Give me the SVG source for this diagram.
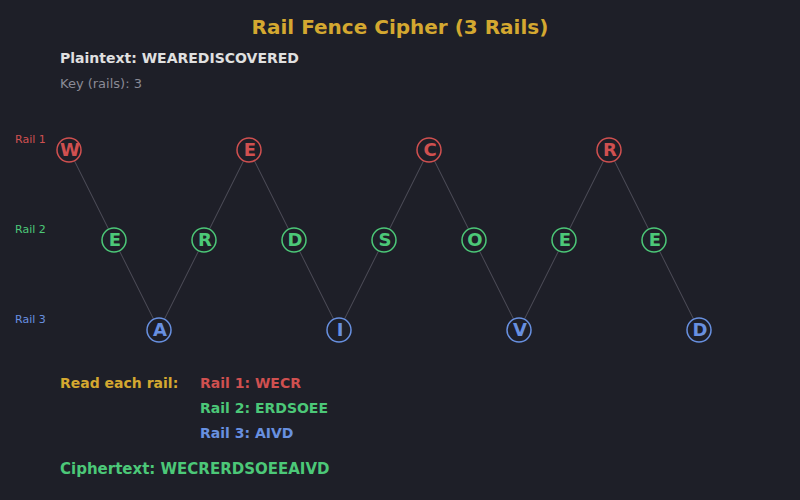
<svg xmlns="http://www.w3.org/2000/svg" width="800" height="500" viewBox="0 0 800 500">
<style>
text{font-family:"DejaVu Sans",sans-serif}
.n circle{fill:#1e1f28;stroke-width:1.5}
.n text{font-size:18px;font-weight:bold;text-anchor:middle}
.r1 circle{stroke:#d05050}.r1 text{fill:#d05050}
.r2 circle{stroke:#4cc878}.r2 text{fill:#4cc878}
.r3 circle{stroke:#6890e0}.r3 text{fill:#6890e0}
.lbl{font-size:11px}
</style>
<rect width="800" height="500" fill="#1e1f28"/>
<text x="400" y="34" font-size="20" font-weight="bold" fill="#d4a830" text-anchor="middle">Rail Fence Cipher (3 Rails)</text>
<text x="60" y="63" font-size="14" font-weight="bold" fill="#e0e0e0">Plaintext: WEAREDISCOVERED</text>
<text x="60" y="88" font-size="13" fill="#8a8a96">Key (rails): 3</text>
<text class="lbl" x="15" y="143" fill="#d05050">Rail 1</text>
<text class="lbl" x="15" y="233" fill="#4cc878">Rail 2</text>
<text class="lbl" x="15" y="323" fill="#6890e0">Rail 3</text>
<g id="connectors" stroke="#5a5a66" stroke-width="0.8" fill="none">
<polyline points="69,150 114,240 159,330 204,240 249,150 294,240 339,330 384,240 429,150 474,240 519,330 564,240 609,150 654,240 699,330"/>
</g>
<g id="n0" class="n r1"><circle cx="69" cy="150" r="12"/><text x="70" y="156">W</text></g>
<g id="n1" class="n r2"><circle cx="114" cy="240" r="12"/><text x="115" y="246">E</text></g>
<g id="n2" class="n r3"><circle cx="159" cy="330" r="12"/><text x="160" y="336">A</text></g>
<g id="n3" class="n r2"><circle cx="204" cy="240" r="12"/><text x="205" y="246">R</text></g>
<g id="n4" class="n r1"><circle cx="249" cy="150" r="12"/><text x="250" y="156">E</text></g>
<g id="n5" class="n r2"><circle cx="294" cy="240" r="12"/><text x="295" y="246">D</text></g>
<g id="n6" class="n r3"><circle cx="339" cy="330" r="12"/><text x="340" y="336">I</text></g>
<g id="n7" class="n r2"><circle cx="384" cy="240" r="12"/><text x="385" y="246">S</text></g>
<g id="n8" class="n r1"><circle cx="429" cy="150" r="12"/><text x="430" y="156">C</text></g>
<g id="n9" class="n r2"><circle cx="474" cy="240" r="12"/><text x="475" y="246">O</text></g>
<g id="n10" class="n r3"><circle cx="519" cy="330" r="12"/><text x="520" y="336">V</text></g>
<g id="n11" class="n r2"><circle cx="564" cy="240" r="12"/><text x="565" y="246">E</text></g>
<g id="n12" class="n r1"><circle cx="609" cy="150" r="12"/><text x="610" y="156">R</text></g>
<g id="n13" class="n r2"><circle cx="654" cy="240" r="12"/><text x="655" y="246">E</text></g>
<g id="n14" class="n r3"><circle cx="699" cy="330" r="12"/><text x="700" y="336">D</text></g>
<text x="60" y="388" font-size="14" font-weight="bold" fill="#d4a830">Read each rail:</text>
<text x="200" y="388" font-size="14" font-weight="bold" fill="#d05050">Rail 1: WECR</text>
<text x="200" y="413" font-size="14" font-weight="bold" fill="#4cc878">Rail 2: ERDSOEE</text>
<text x="200" y="438" font-size="14" font-weight="bold" fill="#6890e0">Rail 3: AIVD</text>
<text x="60" y="474" font-size="15" font-weight="bold" fill="#4cc878">Ciphertext: WECRERDSOEEAIVD</text>
</svg>
